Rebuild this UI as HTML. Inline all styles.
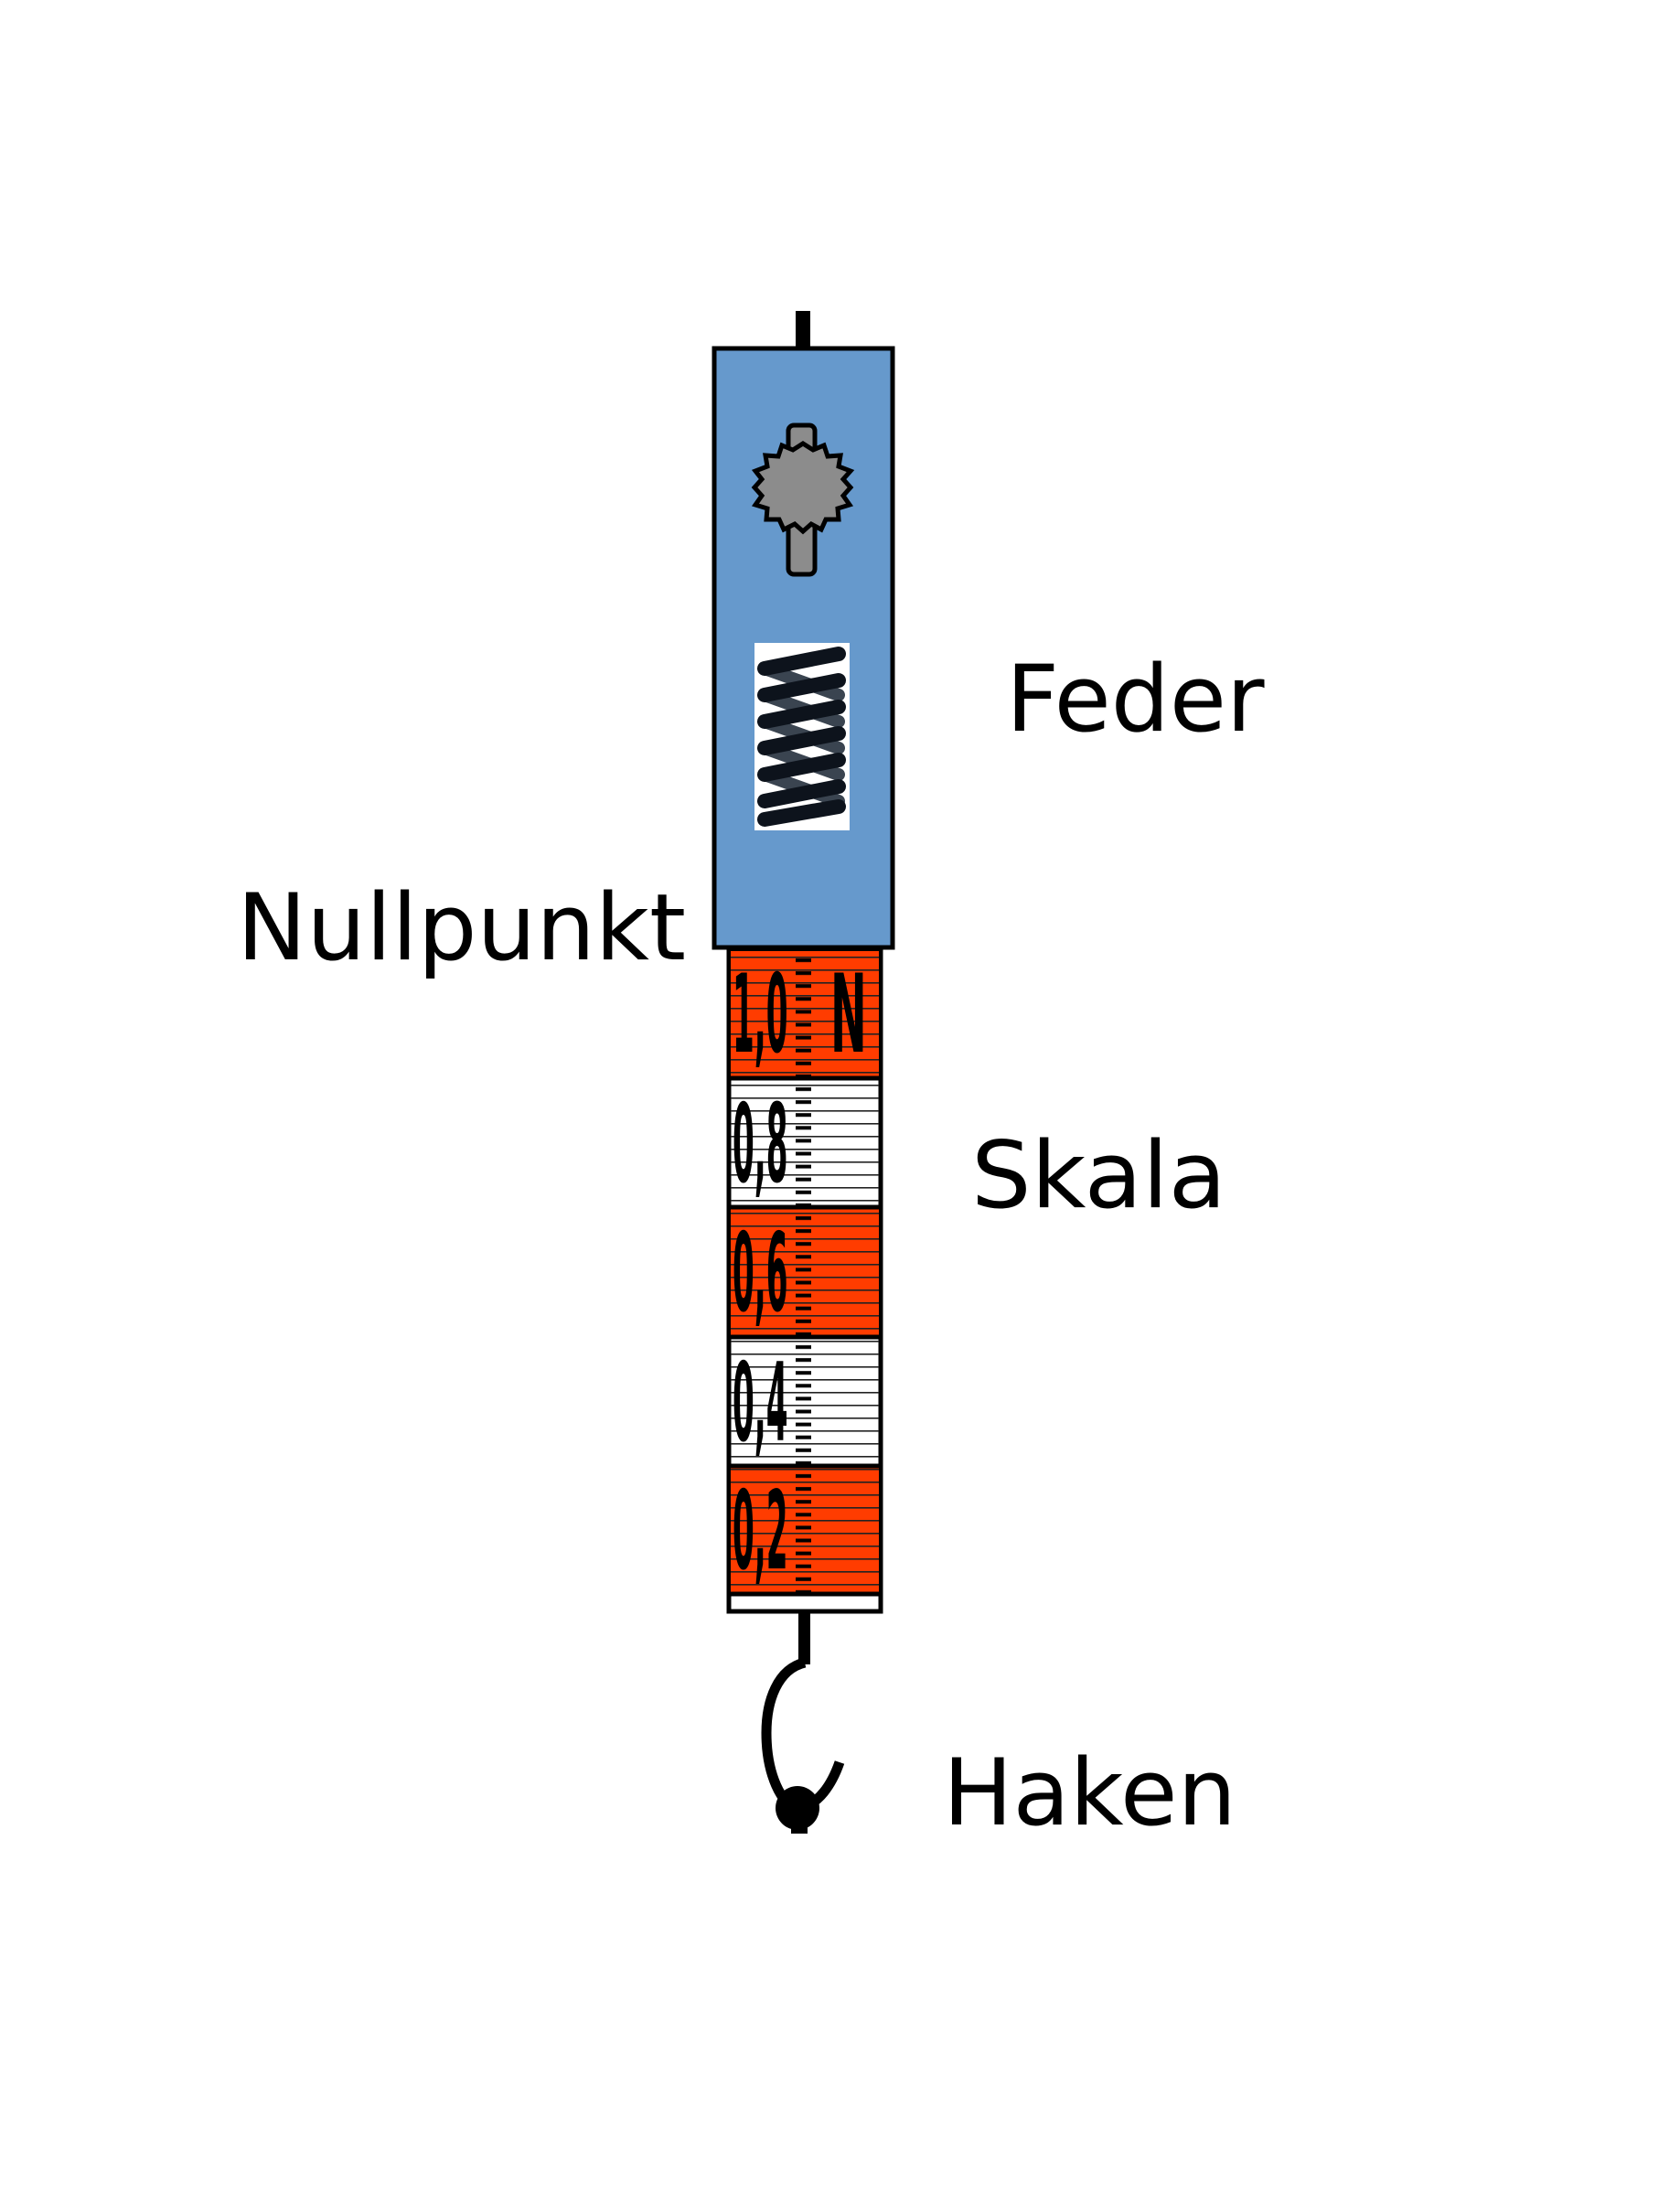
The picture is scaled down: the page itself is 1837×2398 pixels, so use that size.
<!DOCTYPE html>
<html><head><meta charset="utf-8"><style>
html,body{margin:0;padding:0;background:#fff;}
svg{display:block;}
</style></head><body>
<svg width="1837" height="2398" viewBox="0 0 1837 2398" xmlns="http://www.w3.org/2000/svg">
<defs>
<pattern id="stripes" x="0" y="1040" width="10" height="14" patternUnits="userSpaceOnUse">
<rect x="0" y="6" width="10" height="1.6" fill="#222"/>
</pattern>
<pattern id="ticks" x="0" y="1043" width="20" height="14.1" patternUnits="userSpaceOnUse">
<rect x="0" y="5" width="20" height="4" fill="#000"/>
</pattern>
</defs>
<rect x="870" y="340" width="16" height="44" fill="#000"/>
<rect x="781" y="381" width="195" height="655" fill="#6699cc" stroke="#000" stroke-width="5"/>
<rect x="862" y="465" width="29" height="163" rx="6" fill="#8c8c8c" stroke="#000" stroke-width="5"/>
<polygon fill="#8c8c8c" stroke="#000" stroke-width="5" points="878,485 889,492 901,487 905,499 919,498 917,510 930,515 922,524 930,533 922,542 929,552 916,556 917,568 903,568 898,579 887,573 878,581 869,573 857,579 852,568 838,568 839,556 826,552 833,542 825,533 833,524 826,515 839,510 837,498 851,499 855,487 867,492"/>
<rect x="825" y="703" width="104" height="205" fill="#fff"/>
<g stroke="#3a4450" stroke-width="14" stroke-linecap="round">
<line x1="836" y1="731" x2="917" y2="760"/><line x1="836" y1="760" x2="917" y2="789"/><line x1="836" y1="789" x2="917" y2="818"/><line x1="836" y1="818" x2="917" y2="847"/><line x1="836" y1="847" x2="917" y2="876"/>
</g>
<g stroke="#0d131c" stroke-width="16" stroke-linecap="round">
<line x1="836" y1="731" x2="917" y2="715"/><line x1="836" y1="760" x2="917" y2="744"/><line x1="836" y1="789" x2="917" y2="773"/><line x1="836" y1="818" x2="917" y2="802"/><line x1="836" y1="847" x2="917" y2="831"/><line x1="836" y1="876" x2="917" y2="860"/><line x1="836" y1="896" x2="917" y2="882"/>
</g>
<rect x="797" y="1038" width="166" height="724" fill="#fff" stroke="#000" stroke-width="5"/>
<rect x="799" y="1040" width="162" height="139" fill="#ff3c00"/>
<rect x="799" y="1320" width="162" height="142" fill="#ff3c00"/>
<rect x="799" y="1603" width="162" height="140" fill="#ff3c00"/>
<rect x="799" y="1040" width="162" height="703" fill="url(#stripes)"/>
<g stroke="#000" stroke-width="5">
<line x1="797" y1="1179" x2="963" y2="1179"/><line x1="797" y1="1320" x2="963" y2="1320"/><line x1="797" y1="1462" x2="963" y2="1462"/><line x1="797" y1="1603" x2="963" y2="1603"/><line x1="797" y1="1743" x2="963" y2="1743"/>
</g>
<rect x="870" y="1040" width="17" height="703" fill="url(#ticks)"/>
<g font-family="'DejaVu Sans','Liberation Sans',sans-serif" font-weight="bold" font-size="95" fill="#000">
<text transform="translate(801,1150) scale(0.36,1.25)">1,0</text>
<text transform="translate(801,1292) scale(0.36,1.25)">0,8</text>
<text transform="translate(801,1433) scale(0.36,1.25)">0,6</text>
<text transform="translate(801,1575) scale(0.36,1.25)">0,4</text>
<text transform="translate(801,1715) scale(0.36,1.25)">0,2</text>
<text transform="translate(908,1150) scale(0.5,1.25)">N</text>
</g>
<rect x="873" y="1762" width="13" height="58" fill="#000"/>
<path d="M880,1818 C850,1825 838,1860 838,1895 C838,1940 855,1975 872,1977 C895,1975 910,1950 918,1927" fill="none" stroke="#000" stroke-width="11"/>
<circle cx="872" cy="1977" r="24" fill="#000"/>
<rect x="865" y="1985" width="18" height="20" fill="#000"/>
<g font-family="'DejaVu Sans','Liberation Sans',sans-serif" font-size="101" fill="#000">
<text x="1100" y="799">Feder</text>
<text x="259" y="1049" textLength="491" lengthAdjust="spacingAndGlyphs">Nullpunkt</text>
<text x="1062" y="1320" textLength="279" lengthAdjust="spacingAndGlyphs">Skala</text>
<text x="1031" y="1995" textLength="321" lengthAdjust="spacingAndGlyphs">Haken</text>
</g>
</svg>
</body></html>
